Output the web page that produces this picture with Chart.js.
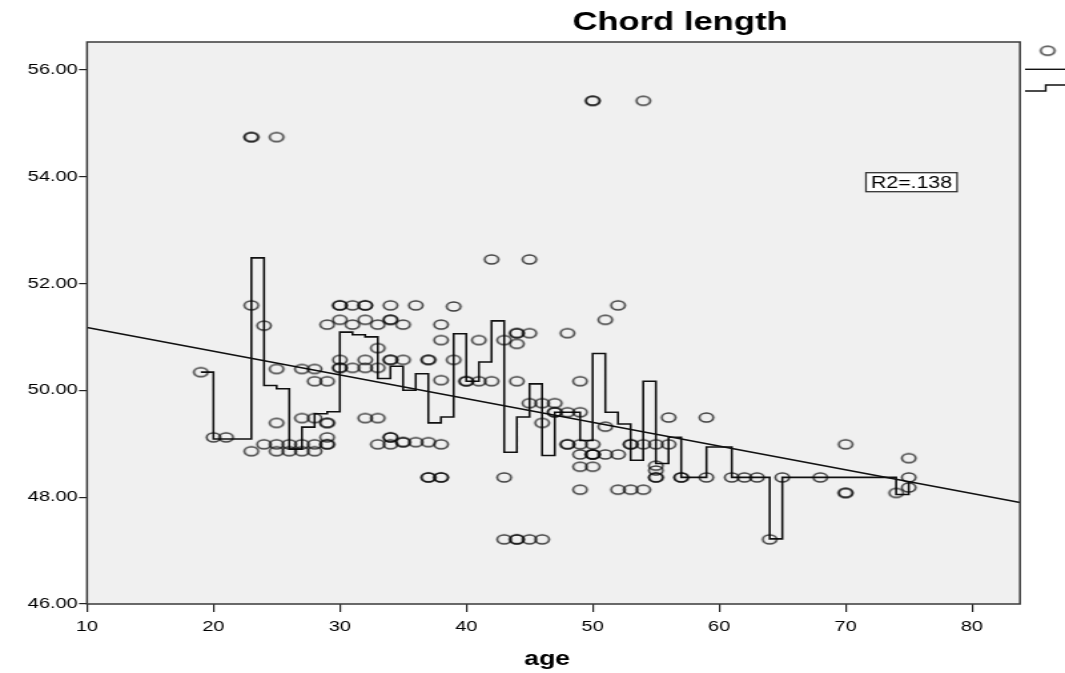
<!DOCTYPE html>
<html>
<head>
<meta charset="utf-8">
<title>Chord length by age</title>
<script src="https://cdn.jsdelivr.net/npm/chart.js@4.4.1/dist/chart.umd.min.js"></script>
<style>
  html, body { margin: 0; padding: 0; background: #fff; overflow: hidden; }
  /* the chart is drawn on a narrower canvas and widened, giving the wide SPSS-style look */
  #stage { width: 800px; height: 673px; transform: scaleX(1.33125); transform-origin: 0 0; }
  canvas { display: block; }
</style>
</head>
<body>
<div id="stage"><canvas id="chart" width="800" height="673"></canvas></div>
<script>
// Observations: age and chord length (one entry per subject)
const ages = [
  19,
  20,
  21,
  23, 23, 23, 23,
  24, 24,
  25, 25, 25, 25, 25,
  26, 26,
  27, 27, 27, 27,
  28, 28, 28, 28, 28,
  29, 29, 29, 29, 29, 29, 29,
  30, 30, 30, 30, 30, 30,
  31, 31, 31,
  32, 32, 32, 32, 32, 32,
  33, 33, 33, 33, 33,
  34, 34, 34, 34, 34, 34, 34, 34,
  35, 35, 35, 35,
  36, 36,
  37, 37, 37, 37, 37,
  38, 38, 38, 38, 38, 38,
  39, 39,
  40, 40,
  41, 41,
  42, 42,
  43, 43, 43,
  44, 44, 44, 44, 44, 44,
  45, 45, 45, 45,
  46, 46, 46,
  47, 47, 47,
  48, 48, 48, 48,
  49, 49, 49, 49, 49, 49,
  50, 50, 50, 50, 50, 50, 50,
  51, 51, 51,
  52, 52, 52,
  53, 53, 53,
  54, 54, 54,
  55, 55, 55, 55, 55,
  56, 56,
  57, 57,
  59, 59,
  61,
  62,
  63,
  64,
  65,
  68,
  70, 70, 70,
  74,
  75, 75, 75
];
const chordLength = [
  50.34,
  49.12,
  49.12,
  54.74, 54.74, 51.59, 48.86,
  51.21, 48.99,
  54.74, 50.40, 49.39, 48.99, 48.86,
  48.99, 48.86,
  50.40, 49.48, 48.99, 48.86,
  50.40, 50.17, 49.48, 48.99, 48.86,
  51.23, 50.17, 49.39, 49.39, 49.12, 48.99, 48.99,
  51.59, 51.59, 51.32, 50.57, 50.42, 50.42,
  51.59, 51.23, 50.42,
  51.59, 51.59, 51.32, 50.57, 50.42, 49.48,
  51.23, 50.79, 50.42, 49.48, 48.99,
  51.59, 51.32, 51.32, 50.57, 50.57, 49.12, 49.12, 48.99,
  51.23, 50.57, 49.03, 49.03,
  51.59, 49.03,
  50.57, 50.57, 49.03, 48.37, 48.37,
  51.23, 50.94, 50.19, 48.99, 48.37, 48.37,
  51.57, 50.57,
  50.17, 50.17,
  50.94, 50.17,
  52.45, 50.17,
  50.94, 48.37, 47.21,
  51.07, 51.07, 50.87, 50.17, 47.21, 47.21,
  52.45, 51.07, 49.76, 47.21,
  49.76, 49.39, 47.21,
  49.76, 49.59, 49.59,
  51.07, 49.59, 48.99, 48.99,
  50.17, 49.59, 48.99, 48.80, 48.57, 48.14,
  55.42, 55.42, 48.99, 48.80, 48.80, 48.80, 48.57,
  51.32, 49.32, 48.80,
  51.59, 48.80, 48.14,
  48.99, 48.99, 48.14,
  55.42, 48.99, 48.14,
  48.99, 48.59, 48.50, 48.37, 48.37,
  49.49, 48.99,
  48.37, 48.37,
  49.49, 48.37,
  48.37,
  48.37,
  48.37,
  47.21,
  48.37,
  48.37,
  48.99, 48.08, 48.08,
  48.08,
  48.73, 48.37, 48.18
];

// Mean chord length at each age (step interpolation line)
const meanAges = [19, 20, 21, 23, 24, 25, 26, 27, 28, 29, 30, 31, 32, 33, 34, 35, 36, 37, 38, 39,
  40, 41, 42, 43, 44, 45, 46, 47, 48, 49, 50, 51, 52, 53, 54, 55, 56, 57, 59, 61, 62, 63, 64, 65,
  68, 70, 74, 75];
const meanChord = [50.34, 49.09, 49.09, 52.48, 50.09, 50.03, 48.90, 49.31, 49.56, 49.60, 51.09, 51.04,
  51.00, 50.22, 50.45, 50.00, 50.31, 49.39, 49.50, 51.06, 50.17, 50.53, 51.30, 48.84, 49.50, 50.12,
  48.78, 49.59, 49.59, 49.06, 50.69, 49.59, 49.37, 48.69, 50.17, 48.63, 49.12, 48.37, 48.94, 48.37,
  48.37, 48.37, 47.22, 48.37, 48.37, 48.37, 48.05, 48.30];

// Linear fit: chord = intercept + slope * age
const fitIntercept = 51.62;
const fitSlope = -0.0444;
const fitLabel = 'R2=.138';

// Axes
const ageRange = [10, 83.8];
const ageTicks = [10, 20, 30, 40, 50, 60, 70, 80];
const chordRange = [46, 56.52];
const chordTicks = [46, 48, 50, 52, 54, 56];

const chartTitle = 'Chord length';
const xTitle = 'age';

const FONT = '"Liberation Sans", Arial, Helvetica, sans-serif';
const INK = '#111111';

const scatterPoints = ages.map((a, i) => ({ x: a, y: chordLength[i] }));
const meanPoints = meanAges.map((a, i) => ({ x: a, y: meanChord[i] }));
const fitPoints = ageRange.map(a => ({ x: a, y: fitIntercept + fitSlope * a }));

// Hollow oval marker used for the observations and the legend key
function makeMarker() {
  const c = document.createElement('canvas');
  c.width = 15;
  c.height = 13;
  const g = c.getContext('2d');
  g.strokeStyle = 'rgba(10,10,10,0.78)';
  g.lineWidth = 1.6;
  g.beginPath();
  g.ellipse(7.5, 6.5, 5.2, 4.5, 0, 0, Math.PI * 2);
  g.stroke();
  return c;
}
const marker = makeMarker();

// Plot background, frame, title, axis title, fit label and legend keys
const frame = {
  id: 'frame',
  beforeDraw(chart) {
    const { ctx, chartArea: a } = chart;
    ctx.save();
    ctx.fillStyle = '#ffffff';
    ctx.fillRect(0, 0, chart.width, chart.height);
    ctx.fillStyle = '#f0f0f0';
    ctx.fillRect(a.left, a.top, a.right - a.left, a.bottom - a.top);
    ctx.restore();
  },
  afterDraw(chart) {
    const { ctx, chartArea: a } = chart;
    ctx.save();
    // frame
    ctx.strokeStyle = '#3a3a3a';
    ctx.lineWidth = 1.5;
    ctx.strokeRect(a.left, a.top, a.right - a.left, a.bottom - a.top);

    // title
    ctx.fillStyle = '#000';
    ctx.font = 'bold 26px ' + FONT;
    ctx.textAlign = 'center';
    ctx.textBaseline = 'middle';
    ctx.fillText(chartTitle, 510.8, 23);

    // x axis title
    ctx.font = 'bold 20px ' + FONT;
    ctx.fillText(xTitle, 411, 659);

    // R2 label box
    const bx = 650.5, by = 172.7, bw = 68.4, bh = 19;
    ctx.fillStyle = '#ffffff';
    ctx.fillRect(bx, by, bw, bh);
    ctx.strokeStyle = '#333';
    ctx.lineWidth = 1.3;
    ctx.strokeRect(bx, by, bw, bh);
    ctx.fillStyle = '#000';
    ctx.font = '16px ' + FONT;
    ctx.fillText(fitLabel, bx + bw / 2, by + bh / 2 + 1);

    // legend keys at the right edge
    ctx.drawImage(marker, 787 - marker.width / 2, 50.7 - marker.height / 2);
    ctx.strokeStyle = INK;
    ctx.lineWidth = 1.4;
    ctx.beginPath();
    ctx.moveTo(770, 69.3);
    ctx.lineTo(800, 69.3);
    ctx.stroke();
    ctx.beginPath();
    ctx.moveTo(770, 91);
    ctx.lineTo(785.5, 91);
    ctx.lineTo(785.5, 85);
    ctx.lineTo(800, 85);
    ctx.stroke();
    ctx.restore();
  }
};

new Chart(document.getElementById('chart'), {
  type: 'scatter',
  data: {
    datasets: [
      {
        label: 'Observed',
        data: scatterPoints,
        pointStyle: marker,
        pointRadius: 5,
        order: 1
      },
      {
        type: 'line',
        label: 'Linear',
        data: fitPoints,
        borderColor: '#111',
        borderWidth: 1.4,
        pointRadius: 0,
        fill: false,
        order: 2
      },
      {
        type: 'line',
        label: 'Step',
        data: meanPoints,
        stepped: 'before',
        borderColor: INK,
        borderWidth: 1.6,
        pointRadius: 0,
        fill: false,
        order: 3
      }
    ]
  },
  options: {
    responsive: false,
    animation: false,
    devicePixelRatio: 1,
    layout: { padding: { top: 42, right: 33.8, left: 0, bottom: 0 } },
    plugins: { legend: { display: false }, tooltip: { enabled: false }, title: { display: false } },
    scales: {
      x: {
        type: 'linear',
        min: ageRange[0],
        max: ageRange[1],
        afterFit(s) { s.height = 69; },
        afterBuildTicks(s) { s.ticks = ageTicks.map(v => ({ value: v })); },
        ticks: {
          font: { family: FONT, size: 15 },
          color: '#000',
          padding: 6,
          maxRotation: 0,
          autoSkip: false,
          callback: v => String(v)
        },
        grid: { drawOnChartArea: false, drawTicks: true, tickLength: 8, color: '#222', lineWidth: 1.2 },
        border: { display: false },
        title: { display: false }
      },
      y: {
        type: 'linear',
        min: chordRange[0],
        max: chordRange[1],
        afterFit(s) { s.width = 65.35; },
        afterBuildTicks(s) { s.ticks = chordTicks.map(v => ({ value: v })); },
        ticks: {
          font: { family: FONT, size: 15 },
          color: '#000',
          padding: 1,
          autoSkip: false,
          callback: v => Number(v).toFixed(2)
        },
        grid: { drawOnChartArea: false, drawTicks: true, tickLength: 6, color: '#222', lineWidth: 1.2 },
        border: { display: false }
      }
    }
  },
  plugins: [frame]
});
</script>
</body>
</html>
